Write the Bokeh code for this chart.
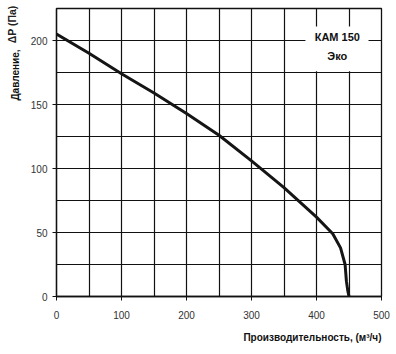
from bokeh.plotting import figure
from bokeh.models import FixedTicker, Label, BoxAnnotation, Range1d, Title
from bokeh.embed import file_html
from bokeh.resources import INLINE
import math

# data
flow = [0, 50, 100, 150, 200, 250, 300, 350, 400, 425, 437, 444, 446, 448, 450]
pressure = [205, 190, 174, 159, 143, 126, 106, 85, 62, 49, 38, 25, 12, 5, 0]
x_ticks = [0, 100, 200, 300, 400, 500]
y_ticks = [0, 50, 100, 150, 200]
x_grid = [0, 50, 100, 150, 200, 250, 300, 350, 400, 450, 500]
y_grid = [0, 25, 50, 75, 100, 125, 150, 175, 200, 225]
title_lines = ["КАМ 150", "Эко"]
xlabel = "Производительность, (м³/ч)"
ylabel_bold = "Давление,"
ylabel_norm = "ΔP (Па)"

FONT = "Liberation Sans"

p = figure(width=396, height=354, output_backend="svg", toolbar_location=None,
           x_range=Range1d(0, 500), y_range=Range1d(0, 225),
           frame_width=325, frame_height=288,
           min_border_left=56, min_border_right=15, min_border_top=8, min_border_bottom=58)
p.background_fill_color = "white"
p.border_fill_color = "white"
p.outline_line_color = "#111111"
p.outline_line_width = 1.3

p.xgrid.ticker = FixedTicker(ticks=x_grid)
p.ygrid.ticker = FixedTicker(ticks=y_grid)
for g in (p.xgrid, p.ygrid):
    g.grid_line_color = "#111111"
    g.grid_line_width = 1.2

p.xaxis.ticker = FixedTicker(ticks=x_ticks)
p.yaxis.ticker = FixedTicker(ticks=y_ticks)
for ax in (p.xaxis, p.yaxis):
    ax.axis_line_color = "#111111"
    ax.axis_line_width = 1.3
    ax.major_tick_line_color = "#111111"
    ax.major_tick_out = 4
    ax.major_tick_in = 0
    ax.minor_tick_line_color = None
    ax.major_label_text_font = FONT
    ax.major_label_text_font_size = "10px"
    ax.major_label_text_color = "#333333"
p.xaxis.major_label_standoff = 10
p.yaxis.major_label_standoff = 5

p.line(flow, pressure, line_color="#151515", line_width=3)

box = BoxAnnotation(left=383, right=480, bottom=176, top=211,
                    fill_color="white", fill_alpha=1.0, line_color=None)
p.add_layout(box)
p.add_layout(Label(x=432, y=202.6, text=title_lines[0], text_align="center",
                   text_baseline="middle", text_font=FONT, text_font_style="bold",
                   text_font_size="11px", text_color="#111111"))
p.add_layout(Label(x=432, y=188, text=title_lines[1], text_align="center",
                   text_baseline="middle", text_font=FONT, text_font_style="bold",
                   text_font_size="11px", text_color="#111111"))

p.add_layout(Title(text=xlabel, align="right", text_font=FONT, text_font_style="bold",
                   text_font_size="10px", text_color="#111111", standoff=16), "below")
p.add_layout(Title(text=ylabel_bold, align="right", offset=41, text_font=FONT,
                   text_font_style="bold", text_font_size="10px", text_color="#111111",
                   standoff=14), "left")
p.add_layout(Title(text=ylabel_norm, align="right", offset=-3, text_font=FONT,
                   text_font_size="10.5px", text_color="#222222", standoff=-35), "left")

open("out.html", "w").write(file_html(p, INLINE))
